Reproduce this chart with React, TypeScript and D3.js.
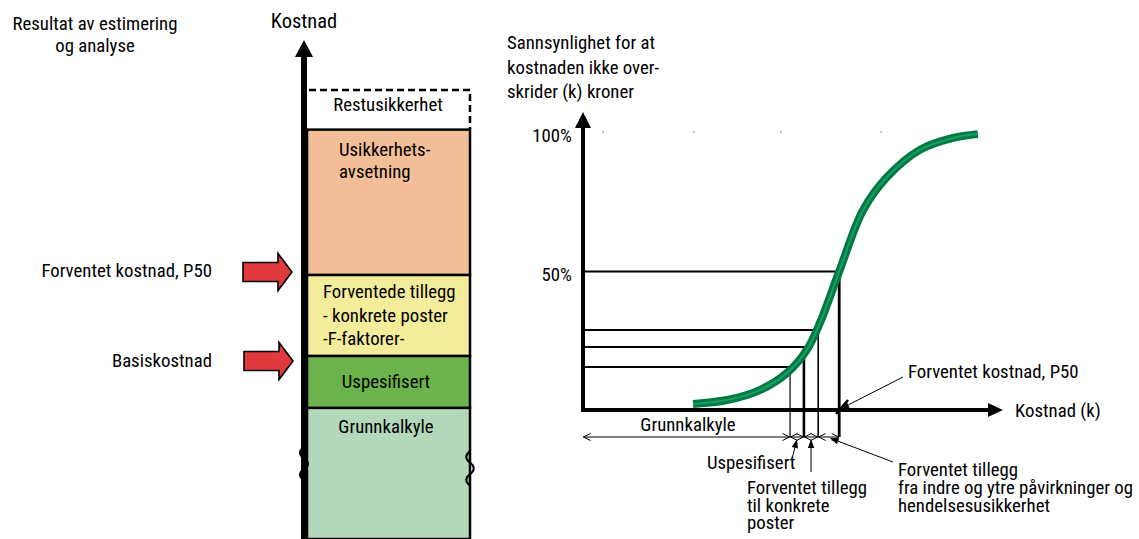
import React from "react";
import * as d3 from "d3";

// ---- data ----
const stackLabels = ["Grunnkalkyle", "Uspesifisert", "Forventede tillegg", "Usikkerhetsavsetning", "Restusikkerhet"];
const stackBounds = [0, 29.8, 41.6, 60, 93, 102];
const stackColors = ["#B3D8BA", "#6DB34B", "#F3ED9B", "#F2BE98", "none"];

const curveCost = [26.2, 34.3, 42.1, 48.6, 53.3, 56.4, 61, 66.7, 72.4, 80.2, 88.1, 94];
const curveProb = [2.2, 3.6, 7.2, 13.4, 21.7, 31.4, 50, 72.2, 84.1, 93.9, 98.2, 99.6];

const markerCost = [49.3, 52.6, 56, 61];
const markerProb = [15.5, 22.7, 28.9, 50];
const markerWidth = [1.2, 2.6, 1.6, 2.8];

const yTicks = [50, 100];
const yTickLabels = ["50%", "100%"];
const gridDotCost = [4.8, 26.4, 47.1, 71];

const FONT = "'Liberation Sans Narrow', 'Roboto Condensed', 'Arial Narrow', 'Liberation Sans', sans-serif";
const FS = 18.8;

const leftY = d3.scaleLinear().domain([0, 102]).range([539, 90]);
const rx = d3.scaleLinear().domain([0, 100]).range([583, 1003]);
const ry = d3.scaleLinear().domain([0, 100]).range([410, 133]);

function T({ x, y, children, anchor = "start", size = FS }: any) {
  return (
    <text x={x} y={y} textAnchor={anchor} dominantBaseline="central" fontSize={size} fontFamily={FONT} fill="#000">
      {children}
    </text>
  );
}

function Chevron({ x, y, dir }: { x: number; y: number; dir: number }) {
  return (
    <path d={`M${x - dir * 7},${y - 3.5} L${x},${y} L${x - dir * 7},${y + 3.5}`} fill="none" stroke="#000" strokeWidth={1} />
  );
}

function Leader({ x1, y1, x2, y2, w = 1 }: any) {
  const a = Math.atan2(y2 - y1, x2 - x1);
  const L = 9, H = 3.2;
  const bx = x2 - L * Math.cos(a), by = y2 - L * Math.sin(a);
  const px = -Math.sin(a) * H, py = Math.cos(a) * H;
  return (
    <g>
      <line x1={x1} y1={y1} x2={bx} y2={by} stroke="#000" strokeWidth={w} />
      <polygon points={`${x2},${y2} ${bx + px},${by + py} ${bx - px},${by - py}`} fill="#000" />
    </g>
  );
}

function RedArrow({ x0, tip, cy }: any) {
  const bh = 9.5, hh = 18.5, hx = tip - 14;
  return (
    <polygon
      points={`${x0},${cy - bh} ${hx},${cy - bh} ${hx},${cy - hh} ${tip},${cy} ${hx},${cy + hh} ${hx},${cy + bh} ${x0},${cy + bh}`}
      fill="#E0393E" stroke="#000" strokeWidth={1.6} strokeLinejoin="miter"
    />
  );
}

export default function App() {
  const boxL = 307, boxR = 470;
  const curvePts = curveCost.map((c, i) => [rx(c), ry(curveProb[i])] as [number, number]);
  const line = d3.line().curve(d3.curveCatmullRom.alpha(0.5))(curvePts) || "";
  const dimY = 437;
  const segs = [0, ...markerCost];

  const wave = (x: number, y0: number, amp: number, step: number) =>
    `M${x},${y0} c${-amp},${step * 0.35} ${-amp},${step * 0.7} 0,${step} c${amp},${step * 0.35} ${amp},${step * 0.7} 0,${step} c${-amp},${step * 0.35} ${-amp},${step * 0.7} 0,${step}`;

  return (
    <svg width={1139} height={539} style={{ position: "absolute", left: 0, top: 0, background: "#fff" }}>
      {/* ---------- LEFT ---------- */}
      <T x={95} y={24} anchor="middle">Resultat av estimering</T>
      <T x={95} y={46} anchor="middle">og analyse</T>
      <T x={304} y={21} anchor="middle" size={20.5}>Kostnad</T>

      {stackBounds.slice(0, 4).map((b, i) => (
        <rect key={i} x={boxL} y={leftY(stackBounds[i + 1])} width={boxR - boxL}
          height={leftY(b) - leftY(stackBounds[i + 1])} fill={stackColors[i]} stroke="#000" strokeWidth={2.5} />
      ))}
      <path d={`M${boxL + 2},${leftY(stackBounds[5])} H${boxR} V${leftY(stackBounds[4])}`} fill="none" stroke="#000" strokeWidth={2.5} strokeDasharray="7,4" />

      <T x={388} y={105} anchor="middle">Restusikkerhet</T>
      <T x={339} y={150}>Usikkerhets-</T>
      <T x={339} y={172}>avsetning</T>
      <T x={323} y={292}>Forventede tillegg</T>
      <T x={323} y={316}>- konkrete poster</T>
      <T x={323} y={339}>-F-faktorer-</T>
      <T x={386} y={382} anchor="middle">Uspesifisert</T>
      <T x={386} y={427} anchor="middle">Grunnkalkyle</T>

      {/* left axis */}
      <rect x={301} y={56} width={6} height={483} fill="#000" />
      <polygon points="304,40 313,57 295,57" fill="#000" />
      <path d={wave(304, 447, 5, 11)} fill="none" stroke="#000" strokeWidth={2.5} />
      <path d={wave(470, 451, 5, 11.5)} fill="none" stroke="#000" strokeWidth={2} />

      <RedArrow x0={243} tip={292} cy={272} />
      <RedArrow x0={244} tip={293} cy={361} />
      <T x={212} y={271} anchor="end">Forventet kostnad, P50</T>
      <T x={212} y={361} anchor="end">Basiskostnad</T>

      {/* ---------- RIGHT ---------- */}
      <T x={507} y={43}>Sannsynlighet for at</T>
      <T x={507} y={68}>kostnaden ikke over-</T>
      <T x={507} y={92}>skrider (k) kroner</T>

      {yTicks.map((t, i) => (
        <T key={t} x={572} y={ry(t) + 3} anchor="end">{yTickLabels[i]}</T>
      ))}
      {gridDotCost.map((c, i) => (
        <circle key={i} cx={rx(c)} cy={132} r={0.8} fill="#777" />
      ))}

      {markerCost.map((c, i) => (
        <g key={i}>
          <line x1={rx(0)} y1={ry(markerProb[i])} x2={rx(c) + markerWidth[i] / 2} y2={ry(markerProb[i])} stroke="#000" strokeWidth={2} />
          <line x1={rx(c)} y1={ry(markerProb[i])} x2={rx(c)} y2={dimY} stroke="#000" strokeWidth={markerWidth[i]} />
        </g>
      ))}

      {/* axes */}
      <rect x={581} y={127} width={4} height={285} fill="#000" />
      <polygon points="583,112 591,128 575,128" fill="#000" />
      <rect x={581} y={408} width={408} height={4} fill="#000" />
      <polygon points="1003,410 988,403 988,417" fill="#000" />
      <T x={1015} y={411}>Kostnad (k)</T>

      {/* curve */}
      <path d={line} fill="none" stroke="#007A45" strokeWidth={8} strokeLinecap="butt" />
      <path d={line} fill="none" stroke="#1E9E5E" strokeWidth={2} strokeLinecap="butt" />

      {/* dimension line */}
      {segs.slice(0, -1).map((s, i) => {
        const a = rx(s), b = rx(segs[i + 1]);
        return (
          <g key={i}>
            <line x1={a} y1={dimY} x2={b} y2={dimY} stroke="#000" strokeWidth={1} />
            <Chevron x={a + 0.5} y={dimY} dir={-1} />
            <Chevron x={b - 0.5} y={dimY} dir={1} />
          </g>
        );
      })}
      <T x={688} y={425} anchor="middle">Grunnkalkyle</T>

      {/* leaders */}
      <Leader x1={792} y1={459} x2={(rx(markerCost[0]) + rx(markerCost[1])) / 2} y2={439} />
      <Leader x1={(rx(markerCost[1]) + rx(markerCost[2])) / 2} y1={472} x2={(rx(markerCost[1]) + rx(markerCost[2])) / 2} y2={439} />
      <Leader x1={893} y1={462} x2={(rx(markerCost[2]) + rx(markerCost[3])) / 2 + 1} y2={438} />
      <Leader x1={903} y1={377} x2={rx(markerCost[3]) + 1} y2={ry(0) - 1} w={1} />
      <line x1={836} y1={414} x2={848} y2={400} stroke="#000" strokeWidth={2.5} />

      <T x={707} y={463}>Uspesifisert</T>
      <T x={747} y={488}>Forventet tillegg</T>
      <T x={747} y={505.5}>til konkrete</T>
      <T x={747} y={523}>poster</T>
      <T x={898} y={470}>Forventet tillegg</T>
      <T x={898} y={488}>fra indre og ytre påvirkninger og</T>
      <T x={898} y={505.5}>hendelsesusikkerhet</T>
      <T x={908} y={372}>Forventet kostnad, P50</T>
    </svg>
  );
}
